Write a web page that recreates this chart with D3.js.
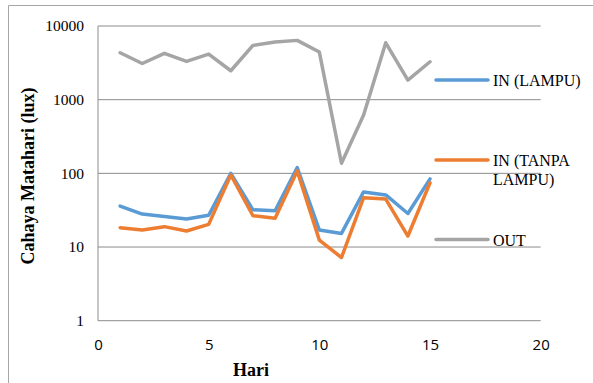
<!DOCTYPE html>
<html>
<head>
<meta charset="utf-8">
<script src="https://cdn.jsdelivr.net/npm/d3@7"></script>
<style>
  html, body { margin: 0; padding: 0; background: #fff; }
  svg { display: block; }
</style>
</head>
<body>
<svg id="chart" width="593" height="383"></svg>
<script>
// Daily sunlight readings (lux) over 15 days
const days = [1, 2, 3, 4, 5, 6, 7, 8, 9, 10, 11, 12, 13, 14, 15];
const inLampu = [36, 28, 26, 24, 27, 100, 32, 31, 120, 17, 15.3, 56, 51, 28.5, 84];
const inTanpaLampu = [18.3, 17, 18.9, 16.5, 20.3, 95, 26.6, 24.5, 108, 12.4, 7.2, 46.7, 44.8, 14.1, 74.5];
const outside = [4330, 3100, 4250, 3310, 4160, 2470, 5450, 6050, 6380, 4430, 137, 618, 5920, 1845, 3270];

const seriesNames = ["IN (LAMPU)", "IN (TANPA LAMPU)", "OUT"];
const seriesColors = ["#5B9BD5", "#ED7D31", "#A5A5A5"];
const xTicks = [0, 5, 10, 15, 20];
const yTicks = [1, 10, 100, 1000, 10000];

const svg = d3.select("#chart");
const plot = { left: 98, right: 540.7, top: 26, bottom: 320.7 };

const x = d3.scaleLinear().domain([0, 20]).range([plot.left, plot.right]);
const y = d3.scaleLog().domain([1, 10000]).range([plot.bottom, plot.top]);

// Outer frame (top and left edges)
svg.append("line").attr("x1", 8.5).attr("x2", 593).attr("y1", 5.5).attr("y2", 5.5)
  .attr("stroke", "#a6a6a6").attr("stroke-width", 1);
svg.append("line").attr("x1", 8.5).attr("x2", 8.5).attr("y1", 5.5).attr("y2", 383)
  .attr("stroke", "#a6a6a6").attr("stroke-width", 1);

// Horizontal gridlines
svg.append("g")
  .selectAll("line")
  .data(yTicks)
  .join("line")
  .attr("x1", plot.left).attr("x2", plot.right)
  .attr("y1", d => y(d)).attr("y2", d => y(d))
  .attr("stroke", "#8c8c8c").attr("stroke-width", 1);

// Vertical axis line
svg.append("line")
  .attr("x1", plot.left).attr("x2", plot.left)
  .attr("y1", plot.top).attr("y2", plot.bottom)
  .attr("stroke", "#8c8c8c").attr("stroke-width", 1);

// Y axis tick labels
const yAxis = d3.axisLeft(y).tickValues(yTicks).tickFormat(d3.format("d")).tickSize(0).tickPadding(14);
const gy = svg.append("g").attr("transform", `translate(${plot.left},0)`).call(yAxis);
gy.select(".domain").remove();
gy.selectAll("text")
  .attr("font-family", "'Liberation Serif', 'Times New Roman', serif")
  .attr("font-size", 15.5).attr("fill", "#000");

// X axis tick labels
const xAxis = d3.axisBottom(x).tickValues(xTicks).tickFormat(d3.format("d")).tickSize(0).tickPadding(19);
const gx = svg.append("g").attr("transform", `translate(0,${plot.bottom})`).call(xAxis);
gx.select(".domain").remove();
gx.selectAll("text")
  .attr("font-family", "'Open Sans', 'Liberation Sans', sans-serif")
  .attr("font-size", 15).attr("fill", "#000");

// Axis titles
svg.append("text")
  .attr("transform", "translate(34,176) rotate(-90)")
  .attr("text-anchor", "middle")
  .attr("font-family", "'Liberation Serif', 'Times New Roman', serif")
  .attr("font-weight", "bold").attr("font-size", 18)
  .text("Cahaya Matahari (lux)");

svg.append("text")
  .attr("x", 251).attr("y", 376)
  .attr("text-anchor", "middle")
  .attr("font-family", "'Liberation Serif', 'Times New Roman', serif")
  .attr("font-weight", "bold").attr("font-size", 18)
  .text("Hari");

// Series lines
const line = d3.line().x((d, i) => x(days[i])).y(d => y(d));
const seriesData = [inLampu, inTanpaLampu, outside];
svg.append("g")
  .selectAll("path")
  .data(seriesData)
  .join("path")
  .attr("d", d => line(d))
  .attr("fill", "none")
  .attr("stroke", (d, i) => seriesColors[i])
  .attr("stroke-width", 3.5)
  .attr("stroke-linejoin", "round")
  .attr("stroke-linecap", "round");

// Legend
const legendRows = [
  { lineY: 80, lines: ["IN (LAMPU)"] },
  { lineY: 160, lines: ["IN (TANPA", "LAMPU)"] },
  { lineY: 239.5, lines: ["OUT"] }
];
const legend = svg.append("g");
legendRows.forEach((row, i) => {
  legend.append("line")
    .attr("x1", 436).attr("x2", 488)
    .attr("y1", row.lineY).attr("y2", row.lineY)
    .attr("stroke", seriesColors[i]).attr("stroke-width", 3.5)
    .attr("stroke-linecap", "round");
  const t = legend.append("text")
    .attr("x", 493).attr("y", row.lineY + 6)
    .attr("font-family", "'Liberation Serif', 'Times New Roman', serif")
    .attr("font-size", 16).attr("fill", "#000");
  row.lines.forEach((s, j) => {
    t.append("tspan").attr("x", 493).attr("dy", j === 0 ? 0 : 19).text(s);
  });
});
</script>
</body>
</html>
